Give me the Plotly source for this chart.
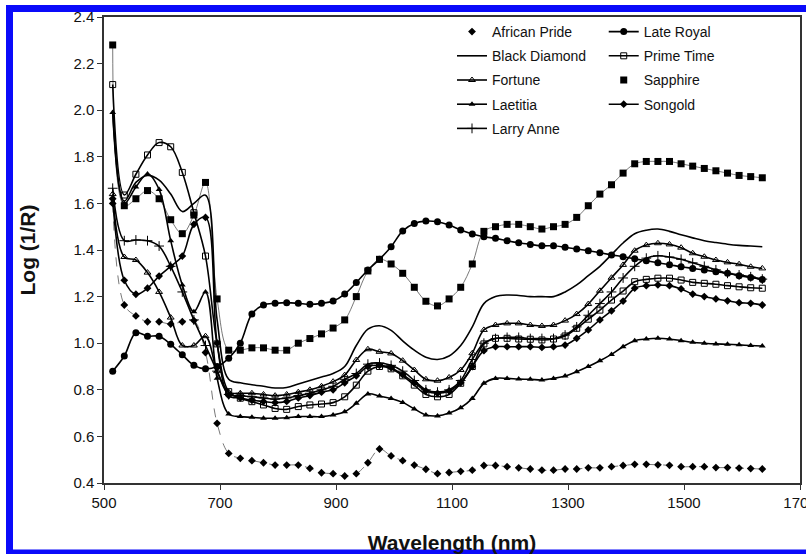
import plotly.graph_objects as go

wavelength = [515, 535, 555, 575, 595, 615, 635, 655, 675, 695, 715, 735, 755, 775, 795, 815, 835, 855, 875, 895,
              915, 935, 955, 975, 995, 1015, 1035, 1055, 1075, 1095, 1115, 1135, 1155, 1175, 1195, 1215, 1235, 1255,
              1275, 1295, 1315, 1335, 1355, 1375, 1395, 1415, 1435, 1455, 1475, 1495, 1515, 1535, 1555, 1575, 1595,
              1615, 1635]

african_pride = [1.60, 1.164, 1.117, 1.092, 1.092, 1.082, 1.092, 1.097, 0.96, 0.656,
                 0.527, 0.506, 0.496, 0.487, 0.477, 0.477, 0.477, 0.463, 0.444, 0.44,
                 0.43, 0.44, 0.487, 0.546, 0.516, 0.496, 0.477, 0.459, 0.44, 0.445,
                 0.45, 0.455, 0.475, 0.475, 0.47, 0.465, 0.46, 0.455, 0.455, 0.46,
                 0.46, 0.465, 0.465, 0.47, 0.475, 0.48, 0.48, 0.478, 0.476, 0.47,
                 0.47, 0.47, 0.466, 0.466, 0.464, 0.462, 0.46]
black_diamond = [2.0, 1.61, 1.69, 1.72, 1.70, 1.64, 1.565, 1.60, 1.635, 1.10,
                 0.845, 0.83, 0.822, 0.815, 0.808, 0.81, 0.825, 0.84, 0.855, 0.87,
                 0.90, 0.99, 1.06, 1.075, 1.055, 1.01, 0.97, 0.94, 0.93, 0.945,
                 0.99, 1.07, 1.17, 1.20, 1.207, 1.205, 1.20, 1.20, 1.20, 1.22,
                 1.25, 1.29, 1.33, 1.38, 1.43, 1.47, 1.485, 1.49, 1.48, 1.465,
                 1.452, 1.44, 1.432, 1.425, 1.42, 1.417, 1.414]
fortune = [1.64, 1.37, 1.357, 1.303, 1.22, 1.11, 0.99, 0.99, 1.03, 0.88,
           0.79, 0.785, 0.785, 0.78, 0.775, 0.78, 0.79, 0.80, 0.815, 0.835,
           0.863, 0.928, 0.974, 0.963, 0.956, 0.925, 0.885, 0.845, 0.839, 0.853,
           0.885, 0.957, 1.057, 1.078, 1.085, 1.085, 1.078, 1.074, 1.078, 1.097,
           1.125, 1.168, 1.225, 1.281, 1.336, 1.397, 1.421, 1.429, 1.424, 1.41,
           1.386, 1.371, 1.357, 1.347, 1.339, 1.328, 1.321]
laetitia = [1.99, 1.60, 1.67, 1.726, 1.66, 1.44, 1.25, 1.135, 1.22, 0.85,
            0.696, 0.685, 0.682, 0.678, 0.678, 0.68, 0.685, 0.685, 0.685, 0.692,
            0.706, 0.742, 0.782, 0.773, 0.763, 0.746, 0.718, 0.692, 0.688, 0.70,
            0.723, 0.763, 0.828, 0.849, 0.849, 0.846, 0.845, 0.842, 0.849, 0.859,
            0.878, 0.90, 0.925, 0.952, 0.985, 1.011, 1.018, 1.021, 1.018, 1.011,
            1.004, 1.0, 0.997, 0.995, 0.993, 0.99, 0.988]
larry_anne = [1.665, 1.44, 1.443, 1.44, 1.417, 1.33, 1.22, 1.10, 0.99, 0.88,
              0.78, 0.775, 0.77, 0.765, 0.76, 0.765, 0.775, 0.785, 0.80, 0.815,
              0.845, 0.87, 0.91, 0.915, 0.905, 0.88, 0.84, 0.80, 0.79, 0.80,
              0.84, 0.93, 1.0, 1.02, 1.025, 1.025, 1.02, 1.02, 1.02, 1.035,
              1.07, 1.12, 1.17, 1.22, 1.28, 1.33, 1.365, 1.375, 1.37, 1.36,
              1.345, 1.33, 1.315, 1.30, 1.293, 1.285, 1.275]
late_royal = [0.88, 0.945, 1.045, 1.03, 1.03, 0.995, 0.95, 0.905, 0.89, 0.90,
              0.935, 1.00, 1.125, 1.164, 1.171, 1.174, 1.171, 1.167, 1.171, 1.181,
              1.211, 1.26, 1.314, 1.36, 1.414, 1.482, 1.514, 1.524, 1.521, 1.507,
              1.486, 1.469, 1.457, 1.45, 1.44, 1.431, 1.424, 1.418, 1.418, 1.412,
              1.404, 1.397, 1.388, 1.379, 1.371, 1.362, 1.354, 1.345, 1.337, 1.328,
              1.321, 1.314, 1.307, 1.30, 1.29, 1.282, 1.273]
prime_time = [2.11, 1.636, 1.725, 1.808, 1.861, 1.843, 1.733, 1.56, 1.374, 0.997,
              0.792, 0.764, 0.749, 0.735, 0.72, 0.716, 0.728, 0.735, 0.739, 0.745,
              0.77, 0.82, 0.88, 0.90, 0.89, 0.86, 0.82, 0.78, 0.77, 0.78,
              0.828, 0.90, 0.997, 1.021, 1.021, 1.018, 1.017, 1.014, 1.018, 1.031,
              1.064, 1.103, 1.142, 1.185, 1.224, 1.264, 1.274, 1.279, 1.279, 1.271,
              1.261, 1.257, 1.253, 1.247, 1.242, 1.238, 1.236]
sapphire = [2.28, 1.59, 1.62, 1.655, 1.62, 1.53, 1.47, 1.55, 1.69, 1.19,
            0.97, 0.97, 0.98, 0.98, 0.97, 0.97, 1.00, 1.02, 1.04, 1.065,
            1.10, 1.20, 1.31, 1.36, 1.34, 1.30, 1.24, 1.18, 1.16, 1.19,
            1.24, 1.34, 1.48, 1.50, 1.51, 1.51, 1.50, 1.49, 1.50, 1.51,
            1.54, 1.59, 1.64, 1.68, 1.73, 1.77, 1.78, 1.78, 1.78, 1.77,
            1.76, 1.75, 1.74, 1.73, 1.72, 1.715, 1.71]
songold = [1.62, 1.27, 1.21, 1.236, 1.288, 1.33, 1.374, 1.51, 1.54, 1.0,
           0.775, 0.765, 0.755, 0.75, 0.745, 0.75, 0.765, 0.775, 0.79, 0.80,
           0.83, 0.86, 0.90, 0.905, 0.895, 0.865, 0.83, 0.795, 0.785, 0.795,
           0.83, 0.90, 0.968, 0.985, 0.985, 0.985, 0.985, 0.982, 0.985, 0.992,
           1.021, 1.057, 1.10, 1.139, 1.181, 1.236, 1.247, 1.25, 1.247, 1.233,
           1.211, 1.20, 1.19, 1.182, 1.174, 1.171, 1.164]

x_ticks = [500, 700, 900, 1100, 1300, 1500, 1700]
y_ticks = [0.4, 0.6, 0.8, 1.0, 1.2, 1.4, 1.6, 1.8, 2.0, 2.2, 2.4]

W, H = 806, 554
ML, MR, MT, MB = 104, 6, 17, 71
PW, PH = W - ML - MR, H - MT - MB


def px(x):
    return (x - ML) / PW


def py(y):
    return 1 - (y - MT) / PH


fig = go.Figure()

# thin connecting lines for marker-only legend entries
for name, vals, dash in [("African Pride", african_pride, "dash"), ("Sapphire", sapphire, "solid")]:
    fig.add_trace(go.Scatter(x=wavelength, y=vals, mode="lines", showlegend=False,
                             line=dict(color="#555555", width=0.8, dash=dash, shape="spline"),
                             hoverinfo="skip"))

col1 = [
    ("African Pride", african_pride, "markers", dict(symbol="diamond", size=6, color="black")),
    ("Black Diamond", black_diamond, "lines", None),
    ("Fortune", fortune, "lines+markers", dict(symbol="triangle-up-open", size=6, color="black", line=dict(width=1, color="black"))),
    ("Laetitia", laetitia, "lines+markers", dict(symbol="triangle-up", size=6, color="black")),
    ("Larry Anne", larry_anne, "lines+markers", dict(symbol="cross-thin-open", size=7, color="black", line=dict(width=1, color="black"))),
]
col2 = [
    ("Late Royal", late_royal, "lines+markers", dict(symbol="circle", size=7, color="black")),
    ("Prime Time", prime_time, "lines+markers", dict(symbol="square-open", size=6, color="black", line=dict(width=1, color="black"))),
    ("Sapphire", sapphire, "markers", dict(symbol="square", size=7, color="black")),
    ("Songold", songold, "lines+markers", dict(symbol="diamond", size=6, color="black")),
]

for legend_id, group in [("legend", col1), ("legend2", col2)]:
    for name, vals, mode, mk in group:
        kw = dict(x=wavelength, y=vals, name=name, mode=mode, legend=legend_id, legendgroup=name,
                  line=dict(color="black", width=1.6, shape="spline"))
        if mk is not None:
            kw["marker"] = mk
        fig.add_trace(go.Scatter(**kw))

font_family = "Liberation Sans, Arial, sans-serif"

blue = "rgb(10,10,250)"
shapes = [
    dict(type="line", xref="paper", yref="paper", x0=px(6), x1=px(820), y0=py(8.5), y1=py(8.5),
         line=dict(color=blue, width=7), layer="above"),
    dict(type="line", xref="paper", yref="paper", x0=px(9.5), x1=px(9.5), y0=py(5), y1=py(560),
         line=dict(color=blue, width=7), layer="above"),
    dict(type="line", xref="paper", yref="paper", x0=px(6), x1=px(820), y0=py(552), y1=py(552),
         line=dict(color=blue, width=5), layer="above"),
]

legend_common = dict(xanchor="left", yanchor="top", bgcolor="rgba(0,0,0,0)",
                     font=dict(size=14, family=font_family, color="#111111"),
                     tracegroupgap=3, itemwidth=30)

fig.update_layout(
    width=W, height=H,
    margin=dict(l=ML, r=MR, t=MT, b=MB, autoexpand=False),
    paper_bgcolor="white", plot_bgcolor="white",
    font=dict(family=font_family, size=15, color="#111111"),
    showlegend=True,
    legend=dict(x=0.50, y=py(16), **legend_common),
    legend2=dict(x=0.718, y=py(16), **legend_common),
    shapes=shapes,
    xaxis=dict(range=[500, 1700], tickvals=x_ticks, ticktext=[str(v) for v in x_ticks],
               ticks="outside", ticklen=5, tickcolor="#333", showgrid=False, zeroline=False,
               showline=True, linecolor="#333", linewidth=1.5, mirror=True,
               ticklabeloverflow="allow",
               tickfont=dict(size=15, family=font_family, color="#111"),
               title=dict(text="<b>Wavelength (nm)</b>", font=dict(size=21, family=font_family, color="#111"),
                          standoff=27)),
    yaxis=dict(range=[0.4, 2.4], tickvals=y_ticks, ticktext=[f"{v:.1f}" for v in y_ticks],
               ticks="outside", ticklen=5, tickcolor="#333", showgrid=False, zeroline=False,
               showline=True, linecolor="#333", linewidth=1.5, mirror=True,
               ticklabeloverflow="allow",
               tickfont=dict(size=15, family=font_family, color="#111"),
               title=dict(text="<b>Log (1/R)</b>", font=dict(size=21, family=font_family, color="#111"),
                          standoff=32)),
)

fig.write_html("out.html", config={"displayModeBar": False},
               post_script="document.body.style.margin='0';")
